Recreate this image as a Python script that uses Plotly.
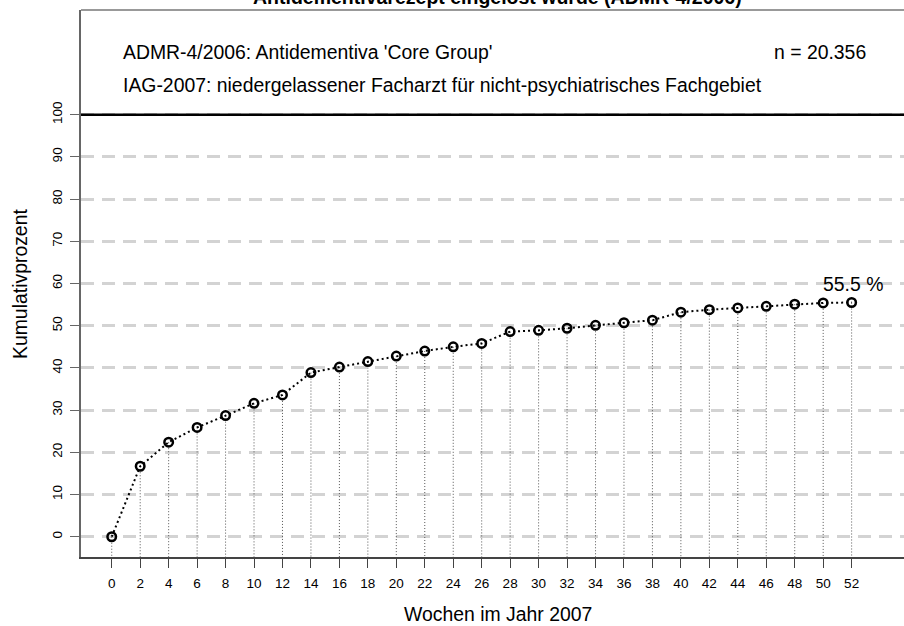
import plotly.graph_objects as go

weeks = list(range(0, 53, 2))
cum_percent = [0.0, 16.7, 22.4, 25.9, 28.7, 31.6, 33.6, 38.9, 40.2, 41.5, 42.8, 44.0,
               45.0, 45.8, 48.6, 48.9, 49.4, 50.1, 50.7, 51.3, 53.2, 53.8, 54.2, 54.6,
               55.1, 55.4, 55.5]
y_ticks = list(range(0, 101, 10))
x_ticks = list(range(0, 53, 2))

title_text = "Antidementivarezept eingelöst wurde (ADMR-4/2006)"
line1 = "ADMR-4/2006: Antidementiva 'Core Group'"
line2 = "IAG-2007: niedergelassener Facharzt für nicht-psychiatrisches Fachgebiet"
n_text = "n = 20.356"
x_title = "Wochen im Jahr 2007"
y_title = "Kumulativprozent"

Y_MIN, Y_MAX = -4.8, 124.8
X_MIN, X_MAX = -2.16, 55.68
FONT = "Liberation Sans, Arial, Helvetica, sans-serif"

W, H = 904, 626
ML, MR, MT, MB = 81, 0, 10, 69
PW, PH = W - ML - MR, H - MT - MB

def px(xp):
    return (xp - ML) / PW

def py(yp):
    return (H - MB - yp) / PH

# drop lines from each point to the bottom of the plot
dx, dy = [], []
for xv, yv in zip(weeks, cum_percent):
    dx += [xv, xv, None]
    dy += [yv, Y_MIN, None]

fig = go.Figure()
fig.add_trace(go.Scatter(x=dx, y=dy, mode="lines",
                         line=dict(color="#555555", width=1, dash="1px,2px"),
                         hoverinfo="skip", showlegend=False))
fig.add_trace(go.Scatter(x=weeks, y=cum_percent, mode="lines+markers",
                         line=dict(color="black", width=2, dash="2px,3px"),
                         marker=dict(symbol="circle-open", size=8.5, color="black",
                                     line=dict(width=2.5, color="black")),
                         showlegend=False))

shapes = [
    dict(type="line", xref="paper", yref="y", x0=0, x1=1, y0=100, y1=100,
         line=dict(color="black", width=2.5), layer="above"),
    dict(type="line", xref="paper", yref="paper", x0=0, x1=1, y0=1, y1=1,
         line=dict(color="#777777", width=1.5), layer="above"),
]

TXT = 19.4
annotations = [
    dict(text=f"<b>{title_text}</b>", xref="paper", yref="paper", x=px(498), y=1,
         xanchor="center", yanchor="bottom", yshift=0, showarrow=False,
         font=dict(family=FONT, size=19.5, color="black")),
    dict(text=line1, xref="paper", yref="paper", x=px(121), y=py(52),
         xanchor="left", yanchor="middle", showarrow=False,
         font=dict(family=FONT, size=TXT, color="black")),
    dict(text=line2, xref="paper", yref="paper", x=px(121), y=py(84.5),
         xanchor="left", yanchor="middle", showarrow=False,
         font=dict(family=FONT, size=TXT, color="black")),
    dict(text=n_text, xref="paper", yref="paper", x=px(868), y=py(52),
         xanchor="right", yanchor="middle", showarrow=False,
         font=dict(family=FONT, size=TXT, color="black")),
    dict(text=f"{cum_percent[-1]} %", xref="x", yref="y", x=weeks[-1], y=cum_percent[-1],
         xanchor="center", yanchor="middle", xshift=1, yshift=18, showarrow=False,
         font=dict(family=FONT, size=TXT, color="black")),
    dict(text=x_title, xref="paper", yref="paper", x=px(498), y=py(614),
         xanchor="center", yanchor="middle", showarrow=False,
         font=dict(family=FONT, size=TXT, color="black")),
    dict(text=y_title, xref="paper", yref="paper", x=px(20), y=py(284),
         xanchor="center", yanchor="middle", textangle=-90, showarrow=False,
         font=dict(family=FONT, size=TXT, color="black")),
]

fig.update_layout(
    width=W, height=H,
    margin=dict(l=ML, r=MR, t=MT, b=MB, pad=0),
    plot_bgcolor="white", paper_bgcolor="white",
    shapes=shapes, annotations=annotations,
    font=dict(family=FONT, color="black"),
    xaxis=dict(range=[X_MIN, X_MAX], tickvals=x_ticks, ticktext=[str(v) for v in x_ticks],
               showgrid=False, zeroline=False, showline=True, linecolor="#444444",
               linewidth=1.5, ticks="outside", ticklen=9, tickcolor="#444444",
               tickwidth=1, ticklabelstandoff=4,
               tickfont=dict(family=FONT, size=13.5, color="black")),
    yaxis=dict(range=[Y_MIN, Y_MAX], tickvals=y_ticks, ticktext=[str(v) for v in y_ticks],
               showgrid=True, gridcolor="#d3d3d3", gridwidth=2.5, griddash="13px,8px",
               zeroline=False, showline=True, linecolor="#666666", linewidth=1.5,
               ticks="outside", ticklen=9, tickcolor="#666666", tickwidth=1,
               tickangle=-90, ticklabelstandoff=3,
               tickfont=dict(family=FONT, size=13.5, color="black")),
)

fig.write_html("out.html")
